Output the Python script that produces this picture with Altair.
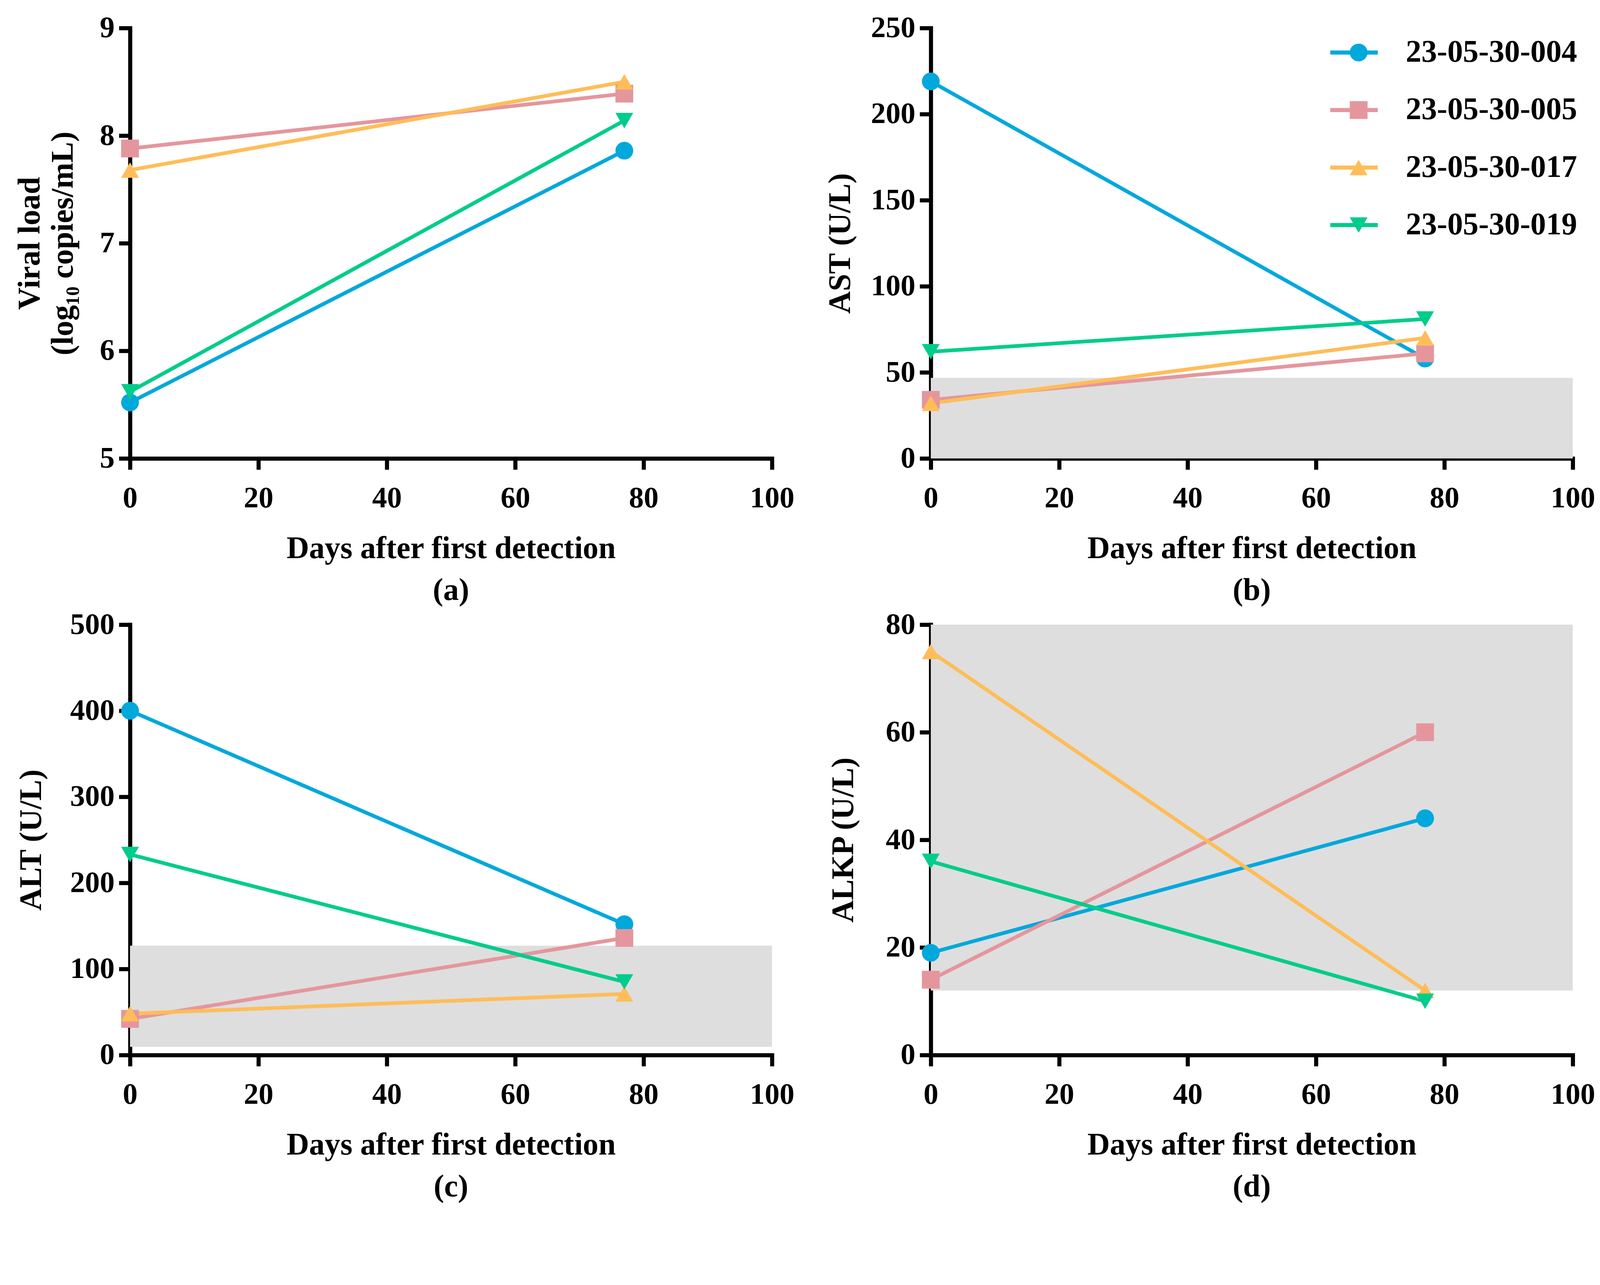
import altair as alt
import pandas as pd

series = ["23-05-30-004", "23-05-30-005", "23-05-30-017", "23-05-30-019"]
colors = ["#00A8DC", "#E5969D", "#FFBD59", "#00CC8C"]
shapes = ["circle", "square", "triangle-up", "triangle-down"]
days = [0, 77]

viral_load = [[5.52, 7.86], [7.88, 8.39], [7.68, 8.50], [5.62, 8.14]]
ast_vals = [[219, 58], [34, 61], [32, 70], [62, 81]]
alt_vals = [[400, 152], [42, 136], [48, 71], [233, 85]]
alkp_vals = [[19, 44], [14, 60], [75, 12], [36, 10]]

x_ticks = [0, 20, 40, 60, 80, 100]

# reference (normal) ranges drawn as grey bands
band_panels = ["b", "c", "d"]
band_low = [0, 9.5, 12]
band_high = [46.8, 127, 80]

FONT = "Liberation Serif"

rows = []
for key, vals in zip(["a", "b", "c", "d"], [viral_load, ast_vals, alt_vals, alkp_vals]):
    for s, v in zip(series, vals):
        for dday, val in zip(days, v):
            rows.append({"panel": key, "series": s, "marker": s, "day": dday, "value": val})
df = pd.DataFrame(rows)

bands = pd.DataFrame({"panel": band_panels, "x1": [0] * 3, "x2": [100] * 3,
                      "y1": band_low, "y2": band_high})

W, H = 1730, 1160
LX, LY = 1071, 21
line_legend = alt.Legend(
    title=None, orient="none", legendX=LX, legendY=LY, padding=0, clipHeight=90,
    symbolType="stroke", symbolSize=16384, symbolStrokeWidth=11, symbolOpacity=1,
    labelFontSize=84, labelFont=FONT, labelFontWeight="bold", labelColor="black",
    labelOffset=70, labelLimit=1000, zindex=1)
marker_legend = alt.Legend(
    title=None, orient="none", legendX=LX + 40, legendY=LY, padding=0, clipHeight=90,
    symbolSize=2300, symbolOpacity=1, symbolStrokeWidth=0,
    labelFontSize=84, labelFont=FONT, labelFontWeight="bold", labelOpacity=0,
    labelExpr="''", labelOffset=70, labelLimit=1000, zindex=2)


def panel(key, ytitle, ydom, yticks, title_pad, with_legend):
    d = df[df.panel == key]
    xax = alt.Axis(values=x_ticks, title="Days after first detection",
                   labelPadding=38, titlePadding=55, labelFlush=False)
    yax = alt.Axis(values=yticks, title=ytitle, labelPadding=12, labelFlush=False,
                   titlePadding=title_pad, titleLineHeight=90)
    xs = alt.Scale(domain=[0, 100], nice=False)
    ys = alt.Scale(domain=ydom, nice=False, zero=False)
    line_scale = alt.Scale(domain=series, range=colors)
    fill_scale = alt.Scale(range=colors)
    shape_scale = alt.Scale(range=shapes)
    l1 = line_legend if with_legend else None
    l2 = marker_legend if with_legend else None
    layers = []
    b = bands[bands.panel == key]
    if len(b):
        layers.append(alt.Chart(b).mark_rect(color="#DEDEDE").encode(
            x=alt.X("x1:Q", scale=xs, axis=xax, title="Days after first detection"),
            x2="x2:Q",
            y=alt.Y("y1:Q", scale=ys, axis=yax, title=ytitle),
            y2="y2:Q"))
    layers.append(alt.Chart(d).mark_line(strokeWidth=10).encode(
        x=alt.X("day:Q", scale=xs, axis=xax, title="Days after first detection"),
        y=alt.Y("value:Q", scale=ys, axis=yax, title=ytitle),
        stroke=alt.Stroke("series:N", scale=line_scale, legend=l1)))
    layers.append(alt.Chart(d).mark_point(filled=True, size=2300, opacity=1).encode(
        x=alt.X("day:Q", scale=xs, axis=xax, title="Days after first detection"),
        y=alt.Y("value:Q", scale=ys, axis=yax, title=ytitle),
        fill=alt.Fill("marker:N", scale=fill_scale, legend=l2),
        shape=alt.Shape("marker:N", scale=shape_scale, legend=l2)))
    return alt.layer(*layers).properties(
        width=W, height=H,
        title=alt.TitleParams(f"({key})", orient="bottom", fontSize=84, font=FONT,
                              fontWeight="bold", color="black", offset=30))


pa = panel("a", ["Viral load", "(log₁₀ copies/mL)"], [5, 9], [5, 6, 7, 8, 9], 55, False)
pb = panel("b", "AST (U/L)", [0, 250], [0, 50, 100, 150, 200, 250], 38, True)
pc = panel("c", "ALT (U/L)", [0, 500], [0, 100, 200, 300, 400, 500], 60, False)
pd_ = panel("d", "ALKP (U/L)", [0, 80], [0, 20, 40, 60, 80], 70, False)

chart = alt.concat(pa, pb, pc, pd_, columns=2, spacing={"row": 10, "column": 83}).resolve_legend(
    stroke="independent", fill="independent", shape="independent"
).properties(
    padding={"left": 30, "top": -56, "right": 5, "bottom": 5}
).configure_view(stroke=None).configure_axis(
    domainWidth=11, tickWidth=11, tickSize=30, domainColor="black", tickColor="black",
    domainCap="square", grid=False,
    labelFont=FONT, titleFont=FONT, labelFontSize=80, titleFontSize=84,
    labelFontWeight="bold", titleFontWeight="bold", labelColor="black", titleColor="black",
).configure_legend(rowPadding=65)

chart.save("out.html", embed_options={"renderer": "svg", "actions": False})
